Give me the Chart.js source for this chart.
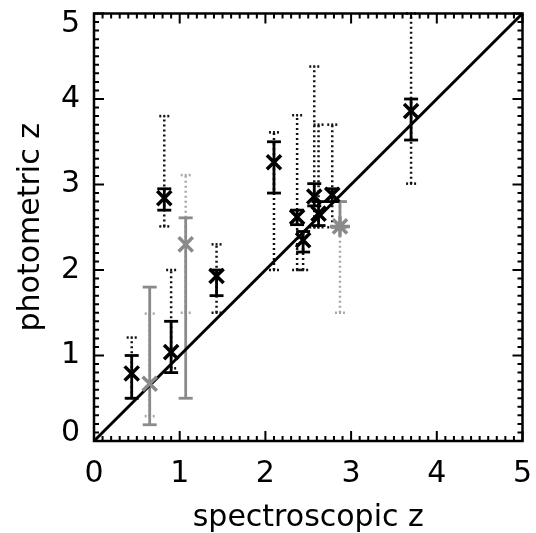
<!DOCTYPE html>
<html>
<head>
<meta charset="utf-8">
<script src="https://cdn.jsdelivr.net/npm/chart.js@4.4.1/dist/chart.umd.min.js"></script>
<style>
  html, body { margin: 0; padding: 0; background: #fff; }
  #wrap { width: 536px; height: 533px; }
</style>
</head>
<body>
<div id="wrap"><canvas id="zchart" width="536" height="533"></canvas></div>
<script>
// black objects: spectroscopic z, photometric z, solid error range, dotted range
var blackSpec  = [0.44, 0.90, 0.82, 1.43, 2.10, 2.37, 2.44, 2.57, 2.62, 2.78, 3.70];
var blackPhot  = [0.79, 1.04, 2.84, 1.93, 3.26, 2.62, 2.35, 2.86, 2.66, 2.88, 3.86];
var blackLo    = [0.50, 0.80, 2.70, 1.70, 2.90, 2.53, 2.21, 2.75, 2.52, 2.80, 3.52];
var blackHi    = [1.00, 1.40, 2.95, 2.00, 3.50, 2.70, 2.45, 3.01, 2.80, 2.95, 4.00];
var blackDotLo = [0.50, 0.85, 2.51, 1.50, 2.00, 2.00, 2.00, 2.50, 2.50, 2.50, 3.01];
var blackDotHi = [1.21, 2.00, 3.80, 2.30, 3.61, 3.81, 2.45, 4.38, 3.70, 3.70, 5.00];

// grey objects
var greySpec  = [0.65, 1.07, 2.87];
var greyPhot  = [0.67, 2.30, 2.51];
var greyLo    = [0.19, 0.50, 2.50];
var greyHi    = [1.80, 2.61, 2.80];
var greyDotLo = [0.29, 1.50, 1.50];
var greyDotHi = [1.49, 3.11, 2.80];

// one-to-one line
var diagZ = [0, 5];
var tickValues = [0, 1, 2, 3, 4, 5];

function toPoints(xs, ys) {
  return xs.map(function (x, i) { return { x: x, y: ys[i] }; });
}

var font = { family: "'DejaVu Sans', sans-serif", size: 30 };

var errorBars = {
  id: "errorBars",
  beforeDatasetsDraw: function (chart) {
    var ctx = chart.ctx;
    var xs = chart.scales.x, ys = chart.scales.y;
    function bars(spec, lo, hi, dlo, dhi, solidCol, dotCol) {
      for (var i = 0; i < spec.length; i++) {
        var px = xs.getPixelForValue(spec[i]);
        // dotted range
        ctx.save();
        ctx.strokeStyle = dotCol;
        ctx.lineWidth = 2.5;
        ctx.setLineDash([2, 3]);
        ctx.beginPath();
        ctx.moveTo(px, ys.getPixelForValue(dlo[i]));
        ctx.lineTo(px, ys.getPixelForValue(dhi[i]));
        ctx.stroke();
        ctx.setLineDash([2, 2]);
        [dlo[i], dhi[i]].forEach(function (v) {
          var py = ys.getPixelForValue(v);
          ctx.beginPath();
          ctx.moveTo(px - 5, py);
          ctx.lineTo(px + 6, py);
          ctx.stroke();
        });
        ctx.restore();
        // solid range
        ctx.save();
        ctx.strokeStyle = solidCol;
        ctx.lineWidth = 2.8;
        ctx.beginPath();
        ctx.moveTo(px, ys.getPixelForValue(lo[i]));
        ctx.lineTo(px, ys.getPixelForValue(hi[i]));
        ctx.stroke();
        [lo[i], hi[i]].forEach(function (v) {
          var py = ys.getPixelForValue(v);
          ctx.beginPath();
          ctx.moveTo(px - 7, py);
          ctx.lineTo(px + 7, py);
          ctx.stroke();
        });
        ctx.restore();
      }
    }
    bars(greySpec, greyLo, greyHi, greyDotLo, greyDotHi, "#8a8a8a", "#a8a8a8");
    bars(blackSpec, blackLo, blackHi, blackDotLo, blackDotHi, "#000", "#111");
  },
  afterDraw: function (chart) {
    var ctx = chart.ctx, a = chart.chartArea;
    var xs = chart.scales.x, ys = chart.scales.y;
    ctx.save();
    ctx.strokeStyle = "#000";
    ctx.lineWidth = 2;
    for (var k = 0; k <= 50; k++) {
      var v = k / 10;
      var len = (k % 10 === 0) ? 10 : 5;
      var px = xs.getPixelForValue(v), py = ys.getPixelForValue(v);
      ctx.beginPath();
      ctx.moveTo(px, a.bottom); ctx.lineTo(px, a.bottom - len);
      ctx.moveTo(px, a.top); ctx.lineTo(px, a.top + len);
      ctx.moveTo(a.left, py); ctx.lineTo(a.left + len, py);
      ctx.moveTo(a.right, py); ctx.lineTo(a.right - len, py);
      ctx.stroke();
    }
    ctx.lineWidth = 2.5;
    ctx.strokeRect(a.left, a.top, a.right - a.left, a.bottom - a.top);

    // y tick labels, kept inside the frame height like the original
    ctx.fillStyle = "#000";
    ctx.font = font.size + "px " + font.family;
    ctx.textAlign = "right";
    ctx.textBaseline = "middle";
    tickValues.forEach(function (v) {
      var py = Math.min(Math.max(ys.getPixelForValue(v), a.top + 11), a.bottom - 8);
      ctx.fillText(String(v), a.left - 14, py);
    });
    ctx.restore();
  }
};

var ctx = document.getElementById("zchart").getContext("2d");
var zChart = new Chart(ctx, {
  type: "scatter",
  data: {
    datasets: [
      {
        label: "one-to-one",
        type: "line",
        data: toPoints(diagZ, diagZ),
        borderColor: "#000",
        borderWidth: 3,
        pointRadius: 0,
        order: 3,
      },
      {
        label: "grey",
        data: toPoints(greySpec, greyPhot),
        pointStyle: ["crossRot", "crossRot", "star"],
        pointRadius: 10,
        borderWidth: 3.5,
        borderColor: "#8a8a8a",
        backgroundColor: "#8a8a8a",
        order: 2,
      },
      {
        label: "black",
        data: toPoints(blackSpec, blackPhot),
        pointStyle: "crossRot",
        pointRadius: 10,
        borderWidth: 3.5,
        borderColor: "#000",
        backgroundColor: "#000",
        order: 1,
      },
    ],
  },
  options: {
    responsive: false,
    animation: false,
    devicePixelRatio: 1,
    layout: { padding: { top: 10, right: 13, left: 0, bottom: 0 } },
    plugins: {
      legend: { display: false },
      tooltip: { enabled: false },
    },
    scales: {
      x: {
        type: "linear",
        min: 0,
        max: 5,
        afterBuildTicks: function (s) { s.ticks = tickValues.map(function (v) { return { value: v }; }); },
        afterFit: function (s) { s.height = 92; s.paddingLeft = 0; s.paddingRight = 0; },
        ticks: { font: font, color: "#000", padding: 15, maxRotation: 0 },
        grid: { display: false, drawTicks: false },
        border: { display: false },
        title: {
          display: true,
          text: "spectroscopic z",
          color: "#000",
          font: { family: font.family, size: 30, lineHeight: 1 },
          padding: 0,
        },
      },
      y: {
        type: "linear",
        min: 0,
        max: 5,
        afterBuildTicks: function (s) { s.ticks = tickValues.map(function (v) { return { value: v }; }); },
        afterFit: function (s) { s.width = 94; s.paddingTop = 0; s.paddingBottom = 0; },
        ticks: { display: false },
        grid: { display: false, drawTicks: false },
        border: { display: false },
        title: {
          display: true,
          text: "photometric z",
          color: "#000",
          font: { family: font.family, size: 30, lineHeight: 1 },
          padding: { top: 16, bottom: 0 },
        },
      },
    },
  },
  plugins: [errorBars],
});
</script>
</body>
</html>
